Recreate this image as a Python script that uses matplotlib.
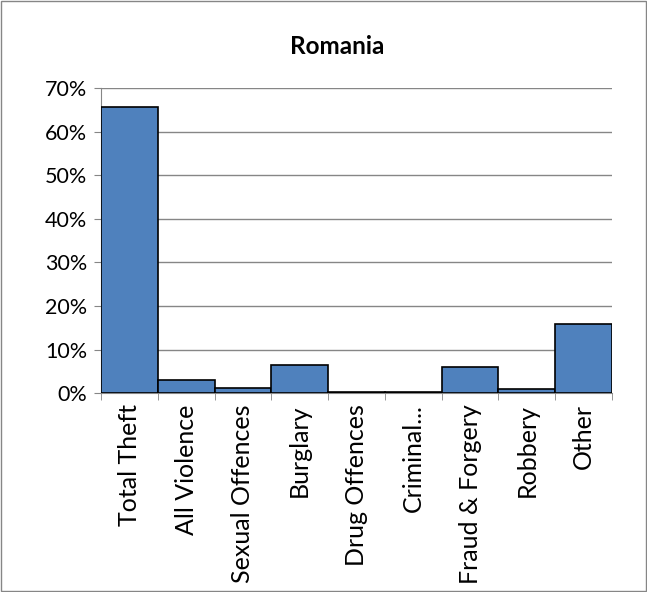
import matplotlib
matplotlib.use("Agg")
import matplotlib.pyplot as plt
from matplotlib.patches import Rectangle
from matplotlib.ticker import FixedLocator, FuncFormatter
import numpy as np

categories = ["Total Theft", "All Violence", "Sexual Offences", "Burglary",
              "Drug Offences", "Criminal...", "Fraud & Forgery", "Robbery", "Other"]
shares = [65.6, 3.0, 1.1, 6.4, 0.3, 0.3, 5.9, 1.0, 15.8]
y_ticks = [0, 10, 20, 30, 40, 50, 60, 70]

plt.rcParams["font.family"] = ["Lato", "DejaVu Sans"]

fig = plt.figure(figsize=(6.47, 5.92), dpi=100)
ax = fig.add_axes([0.156, 0.336, 0.790, 0.515])

x = np.arange(len(categories))
ax.bar(x, shares, width=1.0, color="#4F81BD", edgecolor="black", linewidth=1.2, zorder=3)

ax.set_xlim(-0.5, len(categories) - 0.5)
ax.set_ylim(0, 70)
ax.set_yticks(y_ticks)
ax.yaxis.set_major_formatter(FuncFormatter(lambda v, _: f"{v:.0f}%"))
ax.grid(axis="y", color="#868686", linewidth=1, zorder=0)

ax.set_xticks(x)
ax.set_xticklabels(categories, rotation=90, fontsize=18)
ax.xaxis.set_minor_locator(FixedLocator(np.arange(len(categories) + 1) - 0.5))
ax.tick_params(axis="x", which="major", length=0, pad=8)
ax.tick_params(axis="x", which="minor", length=5, color="#868686", direction="out")
ax.tick_params(axis="y", length=5, color="#868686", labelsize=15.5, pad=5)

for side in ("top", "right"):
    ax.spines[side].set_visible(False)
for side in ("left", "bottom"):
    ax.spines[side].set_color("#868686")
ax.set_axisbelow(True)

fig.text(0.521, 0.921, "Romania", ha="center", va="center", fontsize=17.5, fontweight="bold")

fig.patches.append(Rectangle((0.002, 0.002), 0.996, 0.996, transform=fig.transFigure,
                             fill=False, edgecolor="#868686", linewidth=1))

fig.savefig("out.png", dpi=100)
